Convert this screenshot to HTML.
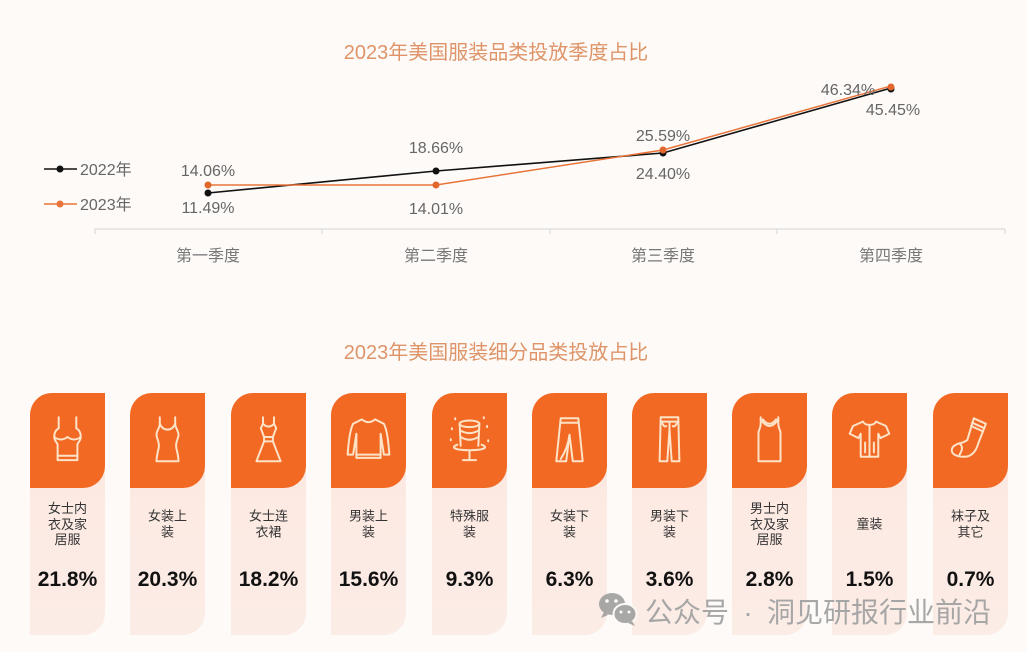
<!DOCTYPE html>
<html><head><meta charset="utf-8">
<style>
html,body{margin:0;padding:0;}
body{width:1027px;height:652px;background:#fdfaf8;position:relative;overflow:hidden;font-family:"Liberation Sans","Noto Sans CJK SC",sans-serif;}
.card{position:absolute;top:393px;width:75px;height:242px;background:linear-gradient(#fce8e0,#fcece6);border-radius:22px 0 22px 0;}
.top{position:absolute;left:0;top:0;width:75px;height:95px;background:#f26924;border-radius:22px 0 22px 0;}
.top svg{position:absolute;left:0;top:0;}
.lab{position:absolute;left:0;width:75px;top:131px;transform:translateY(-50%);text-align:center;font-size:13px;line-height:15.5px;color:#333;font-family:"Liberation Sans","Noto Sans CJK SC",sans-serif;}
.pct{position:absolute;left:-10px;width:95px;top:187px;transform:translateY(-50%);text-align:center;font-size:21px;font-weight:bold;color:#111;}
</style></head><body>

<svg width="1027" height="300" style="position:absolute;left:0;top:0" font-family="Liberation Sans, Noto Sans CJK SC, sans-serif">
  <text x="496" y="59" text-anchor="middle" font-size="20" fill="#de9468">2023年美国服装品类投放季度占比</text>
  <!-- axis -->
  <g stroke="#dcdcdc" stroke-width="1.2">
    <line x1="95" y1="229" x2="1005" y2="229"/>
    <line x1="95" y1="229" x2="95" y2="234"/>
    <line x1="322" y1="229" x2="322" y2="234"/>
    <line x1="550" y1="229" x2="550" y2="234"/>
    <line x1="777" y1="229" x2="777" y2="234"/>
    <line x1="1005" y1="229" x2="1005" y2="234"/>
  </g>
  <g font-size="16" fill="#777" text-anchor="middle">
    <text x="208" y="261">第一季度</text>
    <text x="436" y="261">第二季度</text>
    <text x="663" y="261">第三季度</text>
    <text x="891" y="261">第四季度</text>
  </g>
  <!-- legend -->
  <line x1="44" y1="169" x2="77" y2="169" stroke="#111" stroke-width="1.5"/>
  <circle cx="60" cy="169" r="3.5" fill="#111"/>
  <line x1="44" y1="204" x2="77" y2="204" stroke="#e8743a" stroke-width="1.5"/>
  <circle cx="60" cy="204" r="3.5" fill="#e8743a"/>
  <text x="80" y="175" font-size="16" fill="#666">2022年</text>
  <text x="80" y="210" font-size="16" fill="#666">2023年</text>
  <!-- series -->
  <polyline points="208,193 436,171 663,153 891,88" fill="none" stroke="#111" stroke-width="1.6"/>
  <g fill="#111"><circle cx="208" cy="193" r="3.5"/><circle cx="436" cy="171" r="3.5"/><circle cx="663" cy="153" r="3.5"/><circle cx="891" cy="89" r="3.5"/></g>
  <polyline points="208,185 436,185 663,150 891,86" fill="none" stroke="#e8743a" stroke-width="1.5"/>
  <g fill="#e2672c"><circle cx="208" cy="185" r="3.5"/><circle cx="436" cy="185" r="3.5"/><circle cx="663" cy="150" r="3.5"/><circle cx="891" cy="87" r="3.5"/></g>
  <g font-size="16" fill="#666" text-anchor="middle">
    <text x="208" y="176">14.06%</text>
    <text x="208" y="213">11.49%</text>
    <text x="436" y="153">18.66%</text>
    <text x="436" y="214">14.01%</text>
    <text x="663" y="141">25.59%</text>
    <text x="663" y="179">24.40%</text>
    <text x="848" y="95">46.34%</text>
    <text x="893" y="115">45.45%</text>
  </g>
</svg>

<svg width="1027" height="60" style="position:absolute;left:0;top:320px" font-family="Liberation Sans, Noto Sans CJK SC, sans-serif">
  <text x="496" y="39" text-anchor="middle" font-size="20" fill="#de9468">2023年美国服装细分品类投放占比</text>
</svg>

<!-- cards -->
<div class="card" style="left:30px"><div class="top"><svg width="75" height="95"><g transform="translate(15.5,22) scale(1.1)" fill="none" stroke="#fde3c8" stroke-width="1.8" stroke-linejoin="round" stroke-linecap="round">
<path d="M12,2 V12 M28,2 V12"/><path d="M12,12 C9,14 8,16 8,20 C8,24 11,25 11,27 V41 H29 V27 C29,25 32,24 32,20 C32,16 31,14 28,12"/><path d="M8,20 C12,23 16,23 20,20 C24,23 28,23 32,20"/><path d="M11,37 H29"/></g></svg></div>
<div class="lab">女士内<br>衣及家<br>居服</div><div class="pct">21.8%</div></div>

<div class="card" style="left:130px"><div class="top"><svg width="75" height="95"><g transform="translate(15.5,22) scale(1.1)" fill="none" stroke="#fde3c8" stroke-width="1.8" stroke-linejoin="round" stroke-linecap="round">
<path d="M13,2 V8 C13,12 10,14 10,18 C10,22 13,24 12,30 C11,34 10,38 10,42 H30 C30,38 29,34 28,30 C27,24 30,22 30,18 C30,14 27,12 27,8 V2"/><path d="M13,8 C16,15 24,15 27,8"/></g></svg></div>
<div class="lab">女装上<br>装</div><div class="pct">20.3%</div></div>

<div class="card" style="left:231px"><div class="top"><svg width="75" height="95"><g transform="translate(15.5,22) scale(1.1)" fill="none" stroke="#fde3c8" stroke-width="1.8" stroke-linejoin="round" stroke-linecap="round">
<path d="M15,2 V8 L13,12 L16,20 H24 L27,12 L25,8 V2"/><path d="M15,8 Q20,13 25,8"/><path d="M16,20 V24 H24 V20"/><path d="M16,24 L9,42 H31 L24,24"/></g></svg></div>
<div class="lab">女士连<br>衣裙</div><div class="pct">18.2%</div></div>

<div class="card" style="left:331px"><div class="top"><svg width="75" height="95"><g transform="translate(15.5,22) scale(1.1)" fill="none" stroke="#fde3c8" stroke-width="1.8" stroke-linejoin="round" stroke-linecap="round">
<path d="M14,4 Q20,9 26,4 L34,8 C37,14 38,24 39,36 H34 L31,17 V39 H9 V17 L6,36 H1 C2,24 3,14 6,8 Z"/><path d="M9,36 H31"/></g></svg></div>
<div class="lab">男装上<br>装</div><div class="pct">15.6%</div></div>

<div class="card" style="left:432px"><div class="top"><svg width="75" height="95"><g transform="translate(15.5,22) scale(1.1)" fill="none" stroke="#fde3c8" stroke-width="1.8" stroke-linejoin="round" stroke-linecap="round">
<ellipse cx="20" cy="8" rx="9" ry="3"/><path d="M11,8 L12,28 M29,8 L28,28"/><path d="M11.5,14 Q20,19 28.5,14 M12,20 Q20,25 28,20"/><path d="M9,27 C3,29 5,32 20,32 C35,32 37,29 31,27"/><path d="M20,32 V40 M14,41 H26"/><path d="M4,12 v1 M36,10 v1 M3,22 v1 M37,23 v1 M7,3 v1 M33,2 v1"/></g></svg></div>
<div class="lab">特殊服<br>装</div><div class="pct">9.3%</div></div>

<div class="card" style="left:532px"><div class="top"><svg width="75" height="95"><g transform="translate(15.5,22) scale(1.1)" fill="none" stroke="#fde3c8" stroke-width="1.8" stroke-linejoin="round" stroke-linecap="round">
<path d="M12,3 H28 L32,42 H23 L20,18 L17,42 H8 Z"/><path d="M12,7 H28"/><path d="M20,18 C19,26 16,34 12,40"/></g></svg></div>
<div class="lab">女装下<br>装</div><div class="pct">6.3%</div></div>

<div class="card" style="left:632px"><div class="top"><svg width="75" height="95"><g transform="translate(15.5,22) scale(1.1)" fill="none" stroke="#fde3c8" stroke-width="1.8" stroke-linejoin="round" stroke-linecap="round">
<path d="M12,2 H28 L29,42 H22 L20,13 L18,42 H11 Z"/><path d="M12,6 H28"/><path d="M13,6 C14,10 16,11 17,10 M27,6 C26,10 24,11 23,10"/><path d="M20,6 V13"/></g></svg></div>
<div class="lab">男装下<br>装</div><div class="pct">3.6%</div></div>

<div class="card" style="left:732px"><div class="top"><svg width="75" height="95"><g transform="translate(15.5,22) scale(1.1)" fill="none" stroke="#fde3c8" stroke-width="1.8" stroke-linejoin="round" stroke-linecap="round">
<path d="M12,2 V8 C12,12 10,14 10,16 V42 H30 V16 C30,14 28,12 28,8 V2"/><path d="M12,4 Q20,16 28,4"/><path d="M14,4 Q20,12 26,4"/></g></svg></div>
<div class="lab">男士内<br>衣及家<br>居服</div><div class="pct">2.8%</div></div>

<div class="card" style="left:832px"><div class="top"><svg width="75" height="95"><g transform="translate(15.5,22) scale(1.1)" fill="none" stroke="#fde3c8" stroke-width="1.8" stroke-linejoin="round" stroke-linecap="round">
<path d="M14,6 L5,10 L2,17 L10,21 L12,17 V38 H28 V17 L30,21 L38,17 L35,10 L26,6 C24,10 16,10 14,6 Z"/><path d="M20,9 V38"/><path d="M16,25 V34 M24,25 V34"/></g></svg></div>
<div class="lab">童装</div><div class="pct">1.5%</div></div>

<div class="card" style="left:933px"><div class="top"><svg width="75" height="95"><g transform="translate(15.5,22) scale(1.1)" fill="none" stroke="#fde3c8" stroke-width="1.8" stroke-linejoin="round" stroke-linecap="round">
<path d="M23,3 L34,8 L27,26 C25,33 21,38 14,38 C8,38 3,36 3,32 C3,28 8,26 13,25 L17,23 Z"/><path d="M21.5,7 L32.5,12 M20.5,10 L31.5,15"/><path d="M10,26 C13,28 13,32 10,36"/></g></svg></div>
<div class="lab">袜子及<br>其它</div><div class="pct">0.7%</div></div>

<!-- watermark -->
<svg width="1027" height="652" style="position:absolute;left:0;top:0" font-family="Liberation Sans, Noto Sans CJK SC, sans-serif">
  <g opacity="0.85">
    <ellipse cx="612" cy="604" rx="13" ry="11" fill="#9a9a9a"/>
    <path d="M604,612 l-3,6 l7,-3 z" fill="#9a9a9a"/>
    <ellipse cx="625" cy="614" rx="11.5" ry="10" fill="#9a9a9a" stroke="#fdfaf8" stroke-width="2"/>
    <path d="M632,621 l3,5 l-7,-3 z" fill="#9a9a9a"/>
    <circle cx="607" cy="601" r="1.8" fill="#fdfaf8"/><circle cx="616" cy="601" r="1.8" fill="#fdfaf8"/>
    <circle cx="621" cy="612" r="1.5" fill="#fdfaf8"/><circle cx="629" cy="612" r="1.5" fill="#fdfaf8"/>
  </g>
  <g font-size="28" fill="#a3a3a3" opacity="0.95">
    <text x="645" y="622">公众号</text>
    <text x="748" y="622" text-anchor="middle">·</text>
    <text x="767" y="622">洞见研报行业前沿</text>
  </g>
</svg>
</body></html>
